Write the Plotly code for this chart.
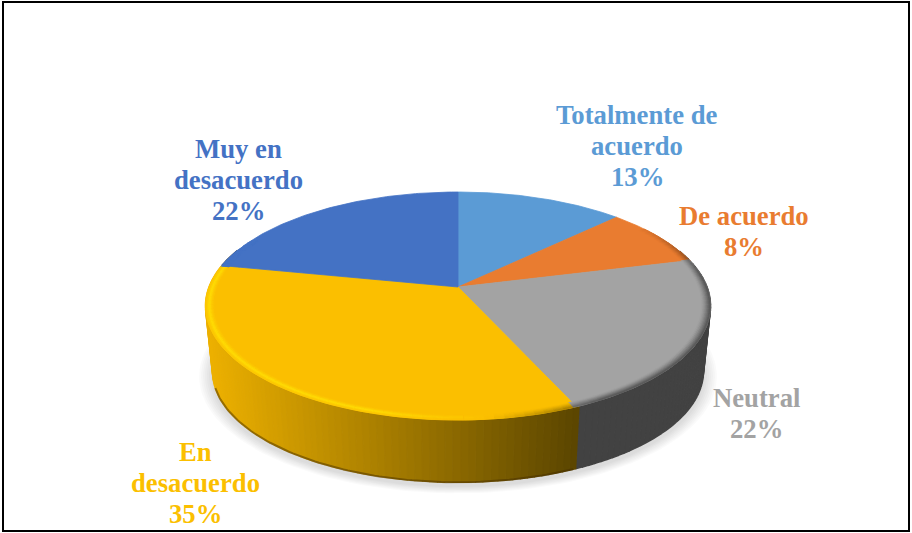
import numpy as np
import plotly.graph_objects as go

categories = ["Totalmente de acuerdo", "De acuerdo", "Neutral", "En desacuerdo", "Muy en desacuerdo"]
values = [12.6, 8.4, 22.4, 34.8, 21.8]
colors = ["#5B9BD5", "#E97C30", "#A3A3A3", "#FBBF00", "#4472C4"]
label_lines = [["Totalmente de", "acuerdo", "13%"], ["De acuerdo", "8%"], ["Neutral", "22%"],
               ["En", "desacuerdo", "35%"], ["Muy en", "desacuerdo", "22%"]]

W, H = 912, 533
CX, CY, R = 458.0, 287.0, 249.0
PA, PC = -63.0, 1 / 6
DEPTH_Y, DEPTH_S = 66.0, 0.972
LABEL_POS = [(637, 146), (744, 231), (756, 413), (195, 483), (238, 180)]
FONT = "Liberation Serif"
LINE_H = 31


def project(theta, r=1.0, low=False):
    """theta clockwise from the top, r in the disc; returns pixel x, y."""
    u, v = r * np.sin(theta), r * np.cos(theta)
    den = 1 + PC * v
    x = R * u / den
    y = (PA - CY * PC) * v / den
    if low:
        x, y = x * DEPTH_S, y * DEPTH_S + DEPTH_Y
    return CX + x, CY + y


def hex_rgb(c):
    return np.array([int(c[i:i + 2], 16) for i in (1, 3, 5)], float)


def css(rgb):
    return "rgb(%d,%d,%d)" % tuple(np.clip(np.round(rgb), 0, 255))


def poly(fig, x, y, color, edge=None, lw=0.8):
    fig.add_trace(go.Scatter(x=x, y=y, mode="lines", fill="toself", fillcolor=color,
                             line=dict(color=edge or color, width=lw if edge else 0),
                             hoverinfo="skip", showlegend=False))


def which_slice(a):
    return int(np.searchsorted(edges[1:], a % (2 * np.pi), side="right").clip(0, len(values) - 1))


fig = go.Figure()
fractions = np.array(values, float) / sum(values)
edges = np.concatenate([[0], np.cumsum(fractions) * 2 * np.pi])

# soft shadow
circle = np.linspace(0, 2 * np.pi, 181)
for grow in [1.055, 1.047, 1.039, 1.031, 1.023, 1.015, 1.007]:
    bx, by = project(circle, 1.0, low=True)
    x = CX + (bx - CX) * grow
    y = CY + 70 + (by - CY - 66) * grow
    poly(fig, x, y, "rgba(0,0,0,0.018)", "rgba(0,0,0,0)")

# side wall
step = np.radians(1.5)
side_angles = np.arange(np.radians(70), np.radians(290), step)
for a in side_angles[np.argsort(-np.abs(side_angles - np.pi))]:
    i = which_slice(a + step / 2)
    b = np.array([a, a + step])
    x1, y1 = project(b)
    x2, y2 = project(b, low=True)
    xm = x1.mean()
    if i == 3:
        f = np.clip((xm - 210) / 365, 0, 1)
        rgb = np.array([236, 176, 0]) * (1 - f) + np.array([92, 70, 0]) * f
    elif i == 2:
        rgb = np.array([66, 66, 66])
    else:
        rgb = hex_rgb(colors[i]) * 0.45
    c = css(rgb)
    poly(fig, [x1[0], x1[1], x2[1], x2[0]], [y1[0], y1[1], y2[1], y2[0]], c, c, lw=1.5)

# darker line along the foot of the yellow wall
foot = np.linspace(edges[3], np.radians(252), 100)
fx, fy = project(foot, low=True)
fig.add_trace(go.Scatter(x=fx, y=fy, mode="lines", line=dict(color="rgba(70,45,0,0.5)", width=2),
                         hoverinfo="skip", showlegend=False))

# top face slices
for i, col in enumerate(colors):
    t = np.linspace(edges[i], edges[i + 1], 90)
    x, y = project(t)
    poly(fig, np.r_[CX, x, CX], np.r_[CY, y, CY], col, col)

# bevel along the rim
radii = np.linspace(0.966, 1.0, 8)
bev_step = np.radians(2.0)
for a in np.arange(np.radians(55), np.radians(296), bev_step):
    i = which_slice(a + bev_step / 2)
    base = hex_rgb(colors[i])
    u, v = np.sin(a + bev_step / 2), np.cos(a + bev_step / 2)
    fade = np.clip((0.62 - v) / 0.5, 0, 1)
    lit = np.clip((-u + 0.1) / 0.4, -1, 1)
    target = (np.array([255, 222, 5]) if i == 3 else base) if lit >= 0 else base * 0.5
    amount = abs(lit) * fade
    b = np.array([a, a + bev_step])
    for r0, r1 in zip(radii[:-1], radii[1:]):
        w = (0.5 * (r0 + r1) - radii[0]) / (radii[-1] - radii[0])
        x0, y0 = project(b, r0)
        x1, y1 = project(b, r1)
        weight = (w ** 1.3 if lit < 0 else np.clip(1 - abs(w - 0.6) / 0.6, 0, 1) ** 1.5) * amount
        c = css(base * (1 - weight) + target * weight)
        poly(fig, [x0[0], x0[1], x1[1], x1[0]], [y0[0], y0[1], y1[1], y1[0]], c, c)

# labels
for lines, col, (lx, ly) in zip(label_lines, colors, LABEL_POS):
    n = len(lines)
    for k, line in enumerate(lines):
        fig.add_annotation(x=lx, y=ly + (k - (n - 1) / 2) * LINE_H, text="<b>%s</b>" % line,
                           showarrow=False, xanchor="center", yanchor="middle",
                           font=dict(family=FONT, size=26.7, color=col))

fig.add_shape(type="rect", x0=3, y0=2, x1=909, y1=531, line=dict(color="black", width=2),
              fillcolor="rgba(0,0,0,0)", layer="above")
fig.update_layout(width=W, height=H, margin=dict(l=0, r=0, t=0, b=0), paper_bgcolor="white",
                  plot_bgcolor="white", showlegend=False,
                  xaxis=dict(range=[0, W], visible=False, fixedrange=True),
                  yaxis=dict(range=[H, 0], visible=False, fixedrange=True))
fig.write_html("out.html", config={"displayModeBar": False},
               post_script="document.body.style.margin='0';document.body.style.overflow='hidden';")
